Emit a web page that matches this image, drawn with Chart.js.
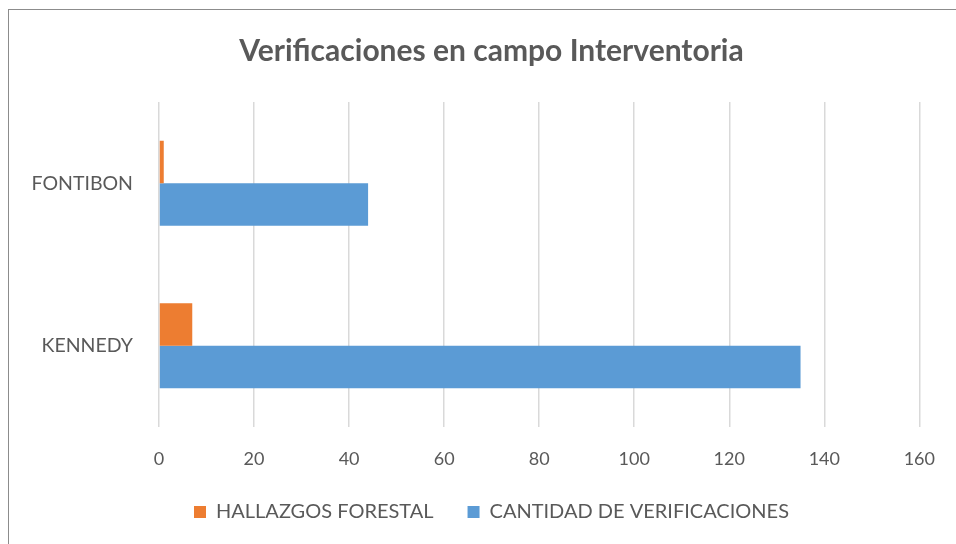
<!DOCTYPE html>
<html>
<head>
<meta charset="utf-8">
<script src="https://cdn.jsdelivr.net/npm/chart.js@4/dist/chart.umd.min.js"></script>
<style>
  html, body { margin: 0; padding: 0; background: #fff; overflow: hidden; }
  #wrap { position: relative; width: 956px; height: 544px; }
  #frame { position: absolute; left: 8px; top: 9px; width: 1000px; height: 600px;
           border: 1px solid #8c8c8c; pointer-events: none; }
  canvas { position: absolute; left: 0; top: 0; }
</style>
</head>
<body>
<div id="wrap">
  <canvas id="chart" width="956" height="544"></canvas>
  <div id="frame"></div>
</div>
<script>
/* ---------- Data ---------- */
const categories = ["FONTIBON", "KENNEDY"];
const hallazgos = [1, 7];
const verificaciones = [44, 135];
const xTicks = [0, 20, 40, 60, 80, 100, 120, 140, 160];

const TXT = "#595959";
const FONT = "Lato, 'Open Sans', sans-serif";

// title and legend sit a bit right of the canvas centre in the original
const nudge = {
  id: "nudge",
  afterLayout(chart) {
    const dx = 30;
    [chart.titleBlock, chart.legend].forEach(b => { if (b) { b.left += dx; b.right += dx; } });
  }
};

new Chart(document.getElementById("chart"), {
  type: "bar",
  data: {
    labels: categories,
    datasets: [
      { label: "HALLAZGOS FORESTAL", data: hallazgos, backgroundColor: "#ED7D31" },
      { label: "CANTIDAD DE VERIFICACIONES", data: verificaciones, backgroundColor: "#5B9BD5" }
    ]
  },
  options: {
    indexAxis: "y",
    responsive: false,
    animation: false,
    categoryPercentage: 0.523,
    barPercentage: 1.0,
    layout: { padding: { left: 0, right: 33, top: 0, bottom: 12 } },
    plugins: {
      tooltip: { enabled: false },
      title: {
        display: true,
        text: "Verificaciones en campo Interventoria",
        color: TXT,
        font: { family: FONT, size: 30, weight: "bold", lineHeight: 1.2 },
        padding: { top: 33, bottom: 33 }
      },
      legend: {
        position: "bottom",
        labels: {
          color: TXT,
          font: { family: FONT, size: 20 },
          boxWidth: 12, boxHeight: 12,
          padding: 34
        }
      }
    },
    scales: {
      x: {
        min: 0, max: 160,
        afterBuildTicks: (s) => { s.ticks = xTicks.map(v => ({ value: v })); },
        afterFit: (s) => { s.height = 41; },
        border: { display: false },
        grid: { color: "#D9D9D9", lineWidth: 1.5, drawTicks: false },
        ticks: { color: TXT, font: { family: FONT, size: 18 }, padding: 21 }
      },
      y: {
        afterFit: (s) => { s.width = 159; },
        border: { display: false },
        grid: { display: false, drawTicks: false },
        ticks: { color: TXT, font: { family: FONT, size: 19.5 }, padding: 26 }
      }
    }
  },
  plugins: [nudge]
});
</script>
</body>
</html>
